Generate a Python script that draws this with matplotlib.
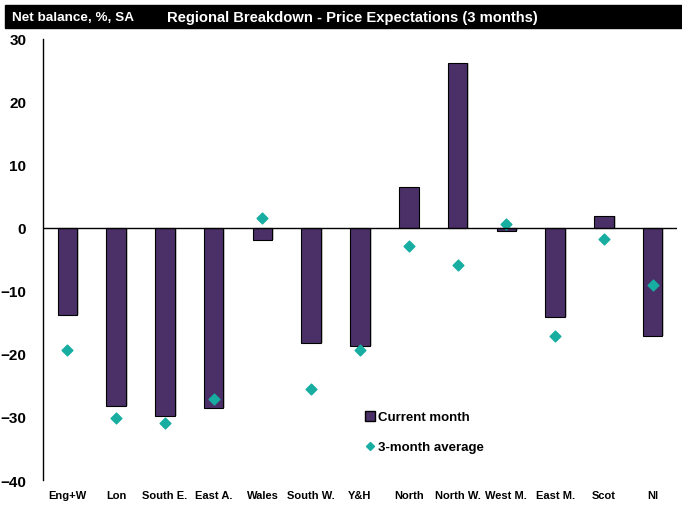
import matplotlib.pyplot as plt
import numpy as np
from matplotlib.lines import Line2D
from matplotlib.patches import Rectangle

regions = ['Eng+W', 'Lon', 'South E.', 'East A.', 'Wales', 'South W.', 'Y&H',
           'North', 'North W.', 'West M.', 'East M.', 'Scot', 'NI']
current = [-13.8, -28.2, -29.8, -28.6, -1.9, -18.3, -18.7,
           6.5, 26.2, -0.4, -14.2, 1.9, -17.2]
avg3m = [-19.4, -30.1, -30.9, -27.2, 1.6, -25.6, -19.4,
         -2.9, -5.8, 0.7, -17.2, -1.8, -9.1]

bar_col = '#4b3068'
dia_col = '#17ada1'
fam = ['Liberation Sans', 'DejaVu Sans']

fig = plt.figure(figsize=(6.82, 5.06), dpi=100)
ax = fig.add_axes([0.063, 0.0494, 0.9297, 0.8716])

x = np.arange(len(regions))
# light shadow behind bars
ax.bar(x + 0.03, current, width=0.42, color='#c8c8c8', zorder=1)
ax.bar(x, current, width=0.4, color=bar_col, edgecolor='black', linewidth=0.8,
       zorder=2)
ax.scatter(x, avg3m, marker='D', s=30, color=dia_col, zorder=3)
ax.axhline(0, color='black', linewidth=1, zorder=4)

ax.set_xlim(-0.5, len(regions) - 0.5)
ax.set_ylim(-40, 30)
ax.set_yticks(range(-40, 31, 10))
ax.set_xticks(x)
ax.set_xticklabels(regions)
ax.tick_params(axis='both', length=0)
ax.tick_params(axis='y', pad=12)
ax.tick_params(axis='x', pad=7)
for lbl in ax.get_yticklabels():
    lbl.set_fontfamily(fam)
    lbl.set_fontweight('bold')
    lbl.set_fontsize(11)
for lbl in ax.get_xticklabels():
    lbl.set_fontfamily(fam)
    lbl.set_fontweight('bold')
    lbl.set_fontsize(8)

for s in ['top', 'right', 'bottom']:
    ax.spines[s].set_visible(False)
ax.spines['left'].set_linewidth(1)

handles = [Line2D([], [], marker='s', linestyle='none', markersize=7,
                  markerfacecolor=bar_col, markeredgecolor='black'),
           Line2D([], [], marker='D', linestyle='none', markersize=4.5,
                  color=dia_col)]
leg = ax.legend(handles, ['Current month', '3-month average'], frameon=False,
                loc='upper left', bbox_to_anchor=(0.487, 0.183),
                handletextpad=0.1, labelspacing=1.35, handlelength=1.0,
                prop={'family': fam, 'weight': 'bold', 'size': 9.5})

# black header band
fig.patches.append(Rectangle((5 / 682, 1 - 29 / 506), 1, 23 / 506,
                             transform=fig.transFigure, color='black'))
fig.text(12 / 682, 1 - 18 / 506, 'Net balance, %, SA', color='white',
         fontfamily=fam, fontweight='bold', fontsize=9.7, va='center')
fig.text(167 / 682, 1 - 18 / 506,
         'Regional Breakdown - Price Expectations (3 months)', color='white',
         fontfamily=fam, fontweight='bold', fontsize=10.6, va='center')

fig.savefig('out.png', dpi=100)
